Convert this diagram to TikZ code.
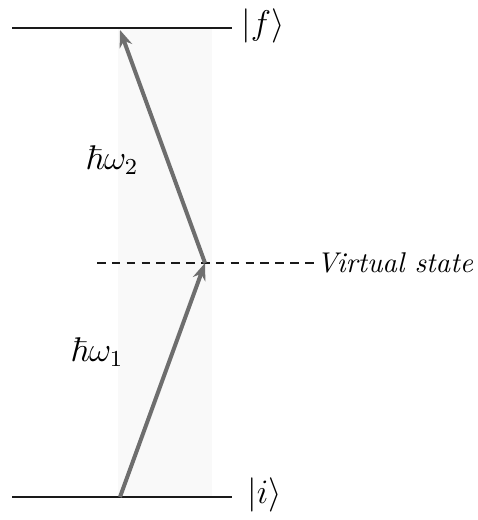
\documentclass[tikz,border=0pt]{standalone}
\usepackage{amsmath,amssymb}
\usepackage{tikz}
\usetikzlibrary{arrows.meta,positioning,calc}
\definecolor{ink}{HTML}{1A1A1A}
\definecolor{photon}{HTML}{6E6E6E}
\definecolor{scanbg}{HTML}{F9F9F9}
\tikzset{
  level/.style={draw=ink,line width=0.75pt},
  virtlevel/.style={draw=ink,line width=0.45pt,dash pattern=on 3pt off 2.2pt},
  ketlabel/.style={font=\large,inner sep=1pt,anchor=west},
  photonarr/.style={draw=photon,line width=1.4pt,-{Stealth[length=6pt,width=4.6pt]}},
  energylabel/.style={font=\large,inner sep=1pt}
}
\begin{document}
\begin{tikzpicture}[x=0.35pt,y=-0.35pt]
  \useasboundingbox (0,0) rectangle (477,520);
  \fill[scanbg] (118,28) rectangle (212,497);

  % levels
  \coordinate (f0) at (12,28);  \coordinate (f1) at (232,28);
  \coordinate (i0) at (12,497); \coordinate (i1) at (232,497);
  \coordinate (v0) at (97,263); \coordinate (v) at (205,263);
  \node[ketlabel] (ketf) at (238,26) {$|f\rangle$};
  \node[ketlabel] (keti) at (244,495) {$|i\rangle$};
  \node[ketlabel,font=\normalsize\itshape,inner sep=0pt] (virt) at (316,263) {Virtual state};

  \draw[level] (f0) -- (f1);
  \draw[level] (i0) -- (i1);
  \draw[virtlevel] (v0) -- (virt.west);

  % photons
  \coordinate (a0) at (120,497);
  \coordinate (a2) at (120,30);
  \draw[photonarr] (a0) -- (v);
  \draw[photonarr] (v) -- (a2);
  \node[energylabel] (w2) at (112,160) {$\hbar\omega_2$};
  \node[energylabel] (w1) at (97,352) {$\hbar\omega_1$};
\end{tikzpicture}
\end{document}
